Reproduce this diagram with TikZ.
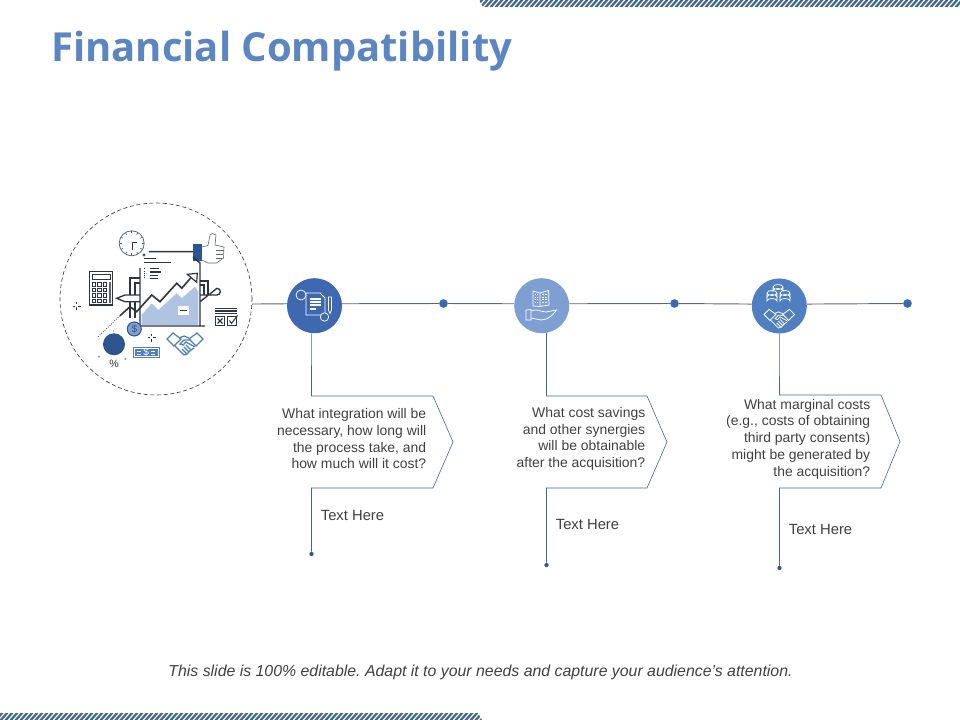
\documentclass[tikz,border=0pt]{standalone}
\usepackage{fontspec}
\setmainfont{Liberation Sans}
\newfontfamily\titlefont{Open Sans}
\definecolor{titleblue}{HTML}{5B86C1}
\definecolor{hubdark}{HTML}{3E69B0}
\definecolor{hublight}{HTML}{7F9FD3}
\definecolor{hubmid}{HTML}{4F7FC0}
\definecolor{navy}{HTML}{2F5590}
\definecolor{ink}{HTML}{2E3440}
\definecolor{wire}{HTML}{5C6675}
\definecolor{paleblue}{HTML}{AFC3E2}
\definecolor{stripe}{HTML}{44688F}
\definecolor{bodytext}{HTML}{404040}
\definecolor{tagline}{HTML}{44668F}
\tikzset{
hub/.style={circle,inner sep=0pt,minimum size=41.3pt},
waydot/.style={circle,fill=hubdark,inner sep=0pt,minimum size=6.5pt},
enddot/.style={circle,fill=navy,inner sep=0pt,minimum size=3.2pt},
tag/.style={draw=tagline,line width=.45pt},
blurb/.style={align=right,anchor=east,inner sep=0pt,text=bodytext,font=\fontsize{10.45}{12.55}\selectfont},
hereText/.style={inner sep=0pt,text=bodytext,font=\fontsize{11.1}{12}\selectfont},
shake/.pic={
\draw (-18,-3)--(-12,-9)--(-4,-3)--(-11,4)--cycle;
\draw (18,-3)--(12,-9)--(4,-3)--(11,4)--cycle;
\draw (-6,-4)--(-1,-6)--(4,-4) (6,-2)--(-1,-2)--(-5,2)--(-2,3)--(1,0)--(10,5);
\draw (-11,3)--(-1,13)--(2,12)--(-3,7) (2,12)--(4,10)--(-1,5) (4,10)--(6,8)--(1,3) (6,8)--(9,6);
},
}
\begin{document}
\begin{tikzpicture}[x=.75pt,y=-.75pt]
\useasboundingbox (0,0) rectangle (960,720);
% bars at the slide edges
\begin{scope}
\clip (479,0)--(960,0)--(960,7)--(483,7)--cycle;
\foreach \i in {470,475,...,970}
\draw[stripe,line width=1.7pt] (\i,8)--(\i+8,-1);
\end{scope}
\begin{scope}
\clip (0,713)--(478,713)--(482,720)--(0,720)--cycle;
\foreach \i in {-10,-5,...,480}
\draw[stripe,line width=1.7pt] (\i,721)--(\i+8,712);
\end{scope}
\node[font=\titlefont\bfseries\fontsize{30}{36}\selectfont,text=titleblue,anchor=west,inner sep=0pt] (heading) at (51,51) {Financial Compatibility};
\node[font=\itshape\frenchspacing\fontsize{11.9}{14}\selectfont,text=bodytext,inner sep=0pt] (foot) at (480.5,672) {This slide is 100\% editable. Adapt it to your needs and capture your audience's attention.};

% main line
\node[circle,draw=ink,densely dashed,line width=.45pt,inner sep=0pt,minimum size=144pt] (big) at (156,299) {};
\node[hub,fill=hubdark] (n1) at (314.5,305.7) {};
\node[hub,fill=hublight] (n2) at (541.7,305.7) {};
\node[hub,fill=hubmid] (n3) at (779.3,306) {};
\node[waydot] (d1) at (443.5,303.5) {};
\node[waydot] (d2) at (674.5,303.5) {};
\node[waydot] (d3) at (907.5,303.5) {};
\draw[wire,line width=.7pt] (big.-3)--(n1.176) (n1.4)--(d1)--(n2.176) (n2.4)--(d2)--(n3.176) (n3.4)--(d3);

% tags
\node[enddot] (e1) at (311.5,554) {};
\node[enddot] (e2) at (546.5,565) {};
\node[enddot] (e3) at (779.5,568) {};
\coordinate (a1) at (311.5,396);
\coordinate (b1) at (311.5,488);
\coordinate (a2) at (546.5,396);
\coordinate (b2) at (546.5,488);
\coordinate (a3) at (779.5,395);
\coordinate (b3) at (779.5,488);
\draw[tag] (n1.264)--(a1)--(433,396)--(453,442)--(433,488)--(b1)--(e1);
\draw[tag] (n2.280)--(a2)--(647,396)--(667,442)--(647,488)--(b2)--(e2);
\draw[tag] (n3.south)--(a3)--(881,395)--(900,441.5)--(881,488)--(b3)--(e3);
\node[blurb] (q1) at (426.5,438.8) {What integration will be\\necessary, how long will\\the process take, and\\how much will it cost?};
\node[blurb] (q2) at (645.5,438.8) {What cost savings\\and other synergies\\will be obtainable\\after the acquisition?};
\node[blurb] (q3) at (870.5,439) {What marginal costs\\(e.g., costs of obtaining\\third party consents)\\might be generated by\\the acquisition?};
\node[hereText] (h1) at (352.5,515.5) {Text Here};
\node[hereText] (h2) at (587.5,524.5) {Text Here};
\node[hereText] (h3) at (820.5,529.5) {Text Here};

% icon in node 1
\begin{scope}[white,line width=.55pt]
\draw (306,293)--(320,293)--(325,298)--(325,315)--(306,315)--cycle;
\draw[line width=.8pt] (310,299)--(321,299) (310,302)--(321,302) (310,305)--(321,305) (310,309)--(316,309);
\draw[fill=hubdark] (301,295) circle (5);
\draw[fill=hubdark] (324.5,317) circle (4.2);
\draw (328.5,297)--(331.5,297)--(331.5,310)--(330,313.5)--(328.5,310)--cycle;
\end{scope}
% icon in node 2
\begin{scope}[white,line width=.55pt]
\draw (533,291)--(540,293)--(548.5,290.5)--(549,305)--(540,306.5)--(533,306)--cycle (540,293)--(540,306.5);
\draw[line width=.9pt,densely dotted] (535.5,294)--(535.5,304) (537.8,294)--(537.8,304) (543,294)--(543,304) (546,294)--(546,304);
\draw (526,310)--(531,309.5)--(531,320)--(526,320)--cycle;
\draw (531,311)..controls (537,308) and (541,312) .. (546,312)--(556.5,310)..controls (553,315) and (548,320) .. (541,320)--(531,318);
\end{scope}
% icon in node 3
\begin{scope}[white,line width=.55pt]
\foreach \px/\py in {778/287,772/293,785/293}
\draw (\px-5,\py) arc (180:-180:5 and 2.5) (\px-5,\py)--(\px-5,\py+4) arc (180:360:5 and 2.5)--(\px+5,\py);
\draw (767,297)--(767,301) arc (180:360:5 and 2.5)--(777,297) (780,297)--(780,301) arc (180:360:5 and 2.5)--(790,297);
\pic[white,line width=.6pt,scale=.85] at (779.3,317) {shake};
\end{scope}

% clock
\draw[wire,line width=.6pt] (131.7,243.3) circle (12.5);
\draw[ink,line width=1pt] (136.5,242.5)--(132.5,242.5)--(132.5,250);
\foreach \a in {0,30,...,330}
\draw[navy,line width=.4pt] (131.7,243.3)+(\a:10)--+(\a:12);
% thumb
\fill[navy] (193.3,244.5) rectangle (201.7,261.5);
\draw[wire,line width=.45pt] (201.7,247)--(208,245.5)--(210,235)--(212.5,233.5)--(216,235)--(215,245)--(224,247)--(223.5,258)--(216.5,263)--(208,263)--(201.7,260);
\draw[wire,line width=.35pt] (216,250)--(223.5,250) (216,254)--(223,254) (216,258)--(222,258);
% document and chart
\fill[paleblue] (141.7,325)--(141.7,315)--(151.7,303.3)--(158.3,310)--(176.7,293.3)--(181.7,298.3)--(195,286.7)--(198.3,291.7)--(198.3,325)--cycle;
\fill[white] (177.5,306.5) rectangle (189,314.5);
\draw[ink,line width=.8pt] (180,310.5)--(187,310.5);
\fill[navy] (144,255) circle (1.7);
\draw[ink,line width=1.1pt] (149,251.7)--(193,251.7) (193,257)--(200,263)--(200,326) (205,326)--(140,326)--(140,268);
\draw[ink,line width=1.1pt] (144.3,258.5)--(156,258.5);
\draw[ink,line width=.6pt] (144.3,262.5)--(170.5,262.5);
\draw[ink,line width=1.1pt] (150,268.5)--(159,268.5) (150,272)--(161,272);
\draw[ink,line width=.6pt] (150,275)--(158,275) (150,278.5)--(158,278.5);
\draw[ink,densely dotted,line width=.6pt] (144,268.5)--(144,279);
% pencils
\draw[ink,line width=1pt] (140,295)--(125,295)--(116.7,298.3)--(125,301.7)--(140,301.7);
\draw[ink,line width=1pt] (140,278)--(130,278)--(130,295) (140,283)--(135,283)--(135,295) (130,302)--(130,318) (135,302)--(135,318);
\draw[ink,line width=1pt] (200,295)--(217,295) arc (90:-90:3.35)--(200,301.7);
\draw[ink,line width=1pt] (200,281)--(208,281)--(208,295) (200,285)--(204,285)--(204,295);
% zigzag arrow
\draw[ink,line width=1.2pt] (120,315.7)--(130,306.7)--(136.7,311.7)--(151.7,295)--(160,301.7)--(176.7,283.3)--(181.7,288.3)--(193.3,275);
\draw[ink,line width=.9pt,fill=white] (187.3,274.3)--(197.3,273.3)--(196.7,282.3)--cycle;
\draw[wire,densely dotted,line width=.7pt] (120,315.7)--(98,337);
% calculator
\draw[ink,line width=1pt] (89.5,271.5) rectangle (112.5,305);
\draw[ink,line width=.6pt] (92,274.5) rectangle (110,279);
\foreach \cx in {92,97.5,103}
\foreach \cy in {282.5,288,293.5,299}
\draw[ink,line width=.5pt] (\cx,\cy) rectangle +(3.8,3.8);
\fill[wire] (108.5,282.5) rectangle (110.5,303);
% check boxes
\draw[ink,line width=.8pt] (215,308.3)--(236.7,308.3) (215,311)--(236.7,311) (215,313.3)--(236.7,313.3);
\draw[ink,line width=.7pt] (215.7,316.7) rectangle (224.3,325) (227.7,316.7) rectangle (236.7,325);
\draw[ink,line width=.8pt] (217.5,318.5)--(222.5,323.5) (222.5,318.5)--(217.5,323.5) (229.5,320.5)--(231.5,323.5)--(237.5,315.5);
% coin, dark disc, bill
\draw[navy,fill=hublight,line width=.8pt] (134.3,329) circle (7);
\node[text=navy,font=\fontsize{7.5}{8}\selectfont,inner sep=0pt] (coin) at (134.3,329) {\$};
\fill[navy] (114,344.3) circle (11);
\node[text=ink,font=\fontsize{8}{8}\selectfont,inner sep=0pt] (pct) at (114,363.5) {\%};
\fill[hublight] (99,356.7) circle (1.2) (125.3,359) circle (1.2) (113.3,331) circle (.8);
\node[fill=hubmid,text=white,font=\fontsize{7.5}{8}\selectfont,minimum width=20.5pt,minimum height=8.7pt,inner sep=0pt] (bill) at (146.2,352.5) {\$};
\draw[white,line width=.5pt] (134.5,348.7) rectangle (158,356.3);
\draw[white,line width=.6pt] (137,351)--(141,351) (137,354)--(141,354) (151,351)--(155,351) (151,354)--(155,354);
\pic[hubmid,line width=.95pt] at (185,342) {shake};
% sparkles
\foreach \sx/\sy in {76.7/306,151.7/337.7}
\draw[ink,line width=.6pt] (\sx-4,\sy)--(\sx-1.5,\sy) (\sx+1.5,\sy)--(\sx+4,\sy) (\sx,\sy-4)--(\sx,\sy-1.5) (\sx,\sy+1.5)--(\sx,\sy+4);
\end{tikzpicture}
\end{document}
